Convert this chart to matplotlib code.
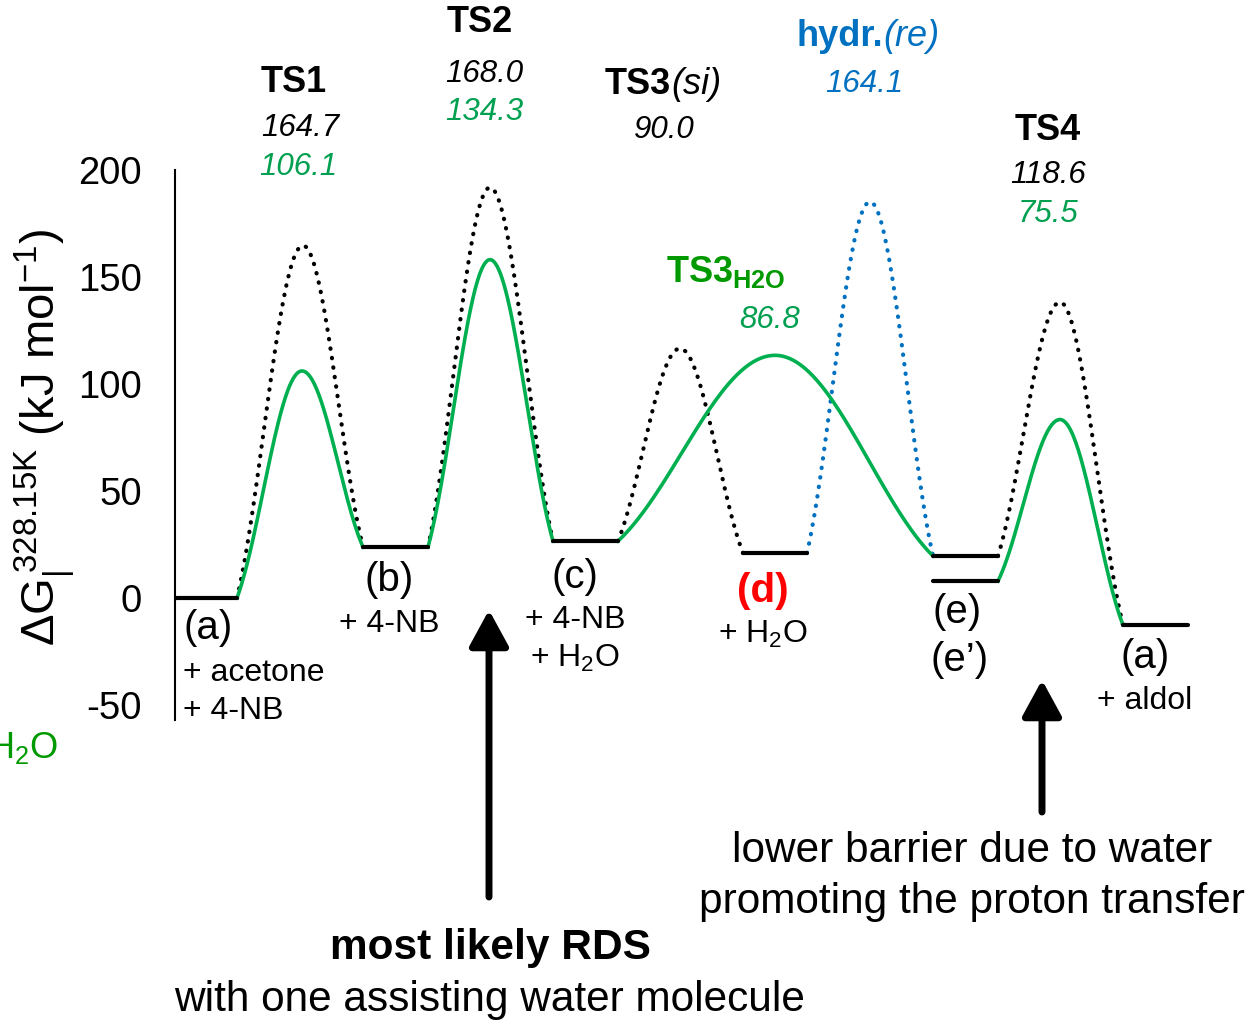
import numpy as np
import matplotlib
matplotlib.use("Agg")
import matplotlib.pyplot as plt

plt.rcParams['font.family'] = ['Liberation Sans', 'DejaVu Sans']
plt.rcParams['mathtext.fontset'] = 'custom'
plt.rcParams['mathtext.rm'] = 'Liberation Sans'
plt.rcParams['mathtext.it'] = 'Liberation Sans:italic'
plt.rcParams['mathtext.bf'] = 'Liberation Sans:bold'
plt.rcParams['axes.unicode_minus'] = False

# free energies of the intermediates (kJ/mol)
states = ['a', 'b', 'c', 'd', 'e', "e'", 'a2']
G_states = [0.0, 23.8, 26.6, 21.0, 19.6, 7.9, -12.6]

# barriers (kJ/mol)
ts_names = ['TS1', 'TS2', 'TS3(si)', 'TS4']
barrier_black = [164.7, 168.0, 90.0, 118.6]
barrier_green = [106.1, 134.3, None, 75.5]
barrier_ts3_h2o = 86.8
barrier_hydr = 164.1

W, H = 1254, 1023
GREEN = '#00B050'
GREEN_TXT = '#00A050'
DKGREEN = '#009900'
BLUE = '#0070C0'

# layout: x extents of each level (layout units)
level_x = {'a': (175, 237), 'b': (363, 428), 'c': (553, 618), 'd': (743, 807),
           'e': (933, 998), "e'": (933, 998), 'a2': (1123, 1188)}
G = dict(zip(states, G_states))

fig = plt.figure(figsize=(W / 100, H / 100), dpi=100)
ax = fig.add_axes([175 / W, 1 - 720 / H, (W - 175) / W, 550 / H])
ax.set_xlim(175, W)
ax.set_ylim(-57, 200)
for s in ['top', 'right', 'bottom']:
    ax.spines[s].set_visible(False)
ax.spines['left'].set_linewidth(1.5)
ax.set_xticks([])
ax.set_yticks([-50, 0, 50, 100, 150, 200])
ax.tick_params(axis='y', length=0, pad=24, labelsize=27.5)


def shape(t):
    return 0.5 * np.sin(np.pi / 2 * t) + 0.25 * (1 - np.cos(np.pi * t))


def hump(s0, s1, barrier, start=None, xp=None, **kw):
    x0 = level_x[s0][1]
    x1 = level_x[s1][0]
    y0 = G[s0]
    y1 = G[s1]
    yp = G[start or s0] + barrier
    if xp is None:
        xp = (x0 + x1) / 2
    t = np.linspace(0, 1, 80)
    xl = x0 + (xp - x0) * t
    yl = y0 + (yp - y0) * shape(t)
    xr = xp + (x1 - xp) * t
    yr = y1 + (yp - y1) * shape(1 - t)
    ax.plot(np.r_[xl, xr], np.r_[yl, yr], **kw)


dot = dict(color='black', lw=3, ls=(0, (0.1, 2.2)), dash_capstyle='round')
dotb = dict(dot, color=BLUE)
sol = dict(color=GREEN, lw=2.6)

# black dotted path
hump('a', 'b', barrier_black[0], xp=303, **dot)
hump('b', 'c', barrier_black[1], xp=490, **dot)
hump('c', 'd', barrier_black[2], xp=680, **dot)
hump('e', 'a2', barrier_black[3], xp=1060, **dot)
# blue hydration
hump('d', 'e', barrier_hydr, xp=870, **dotb)
# green water-assisted path
hump('a', 'b', barrier_green[0], xp=302, **sol)
hump('b', 'c', barrier_green[1], xp=490, **sol)
hump('c', 'e', barrier_ts3_h2o, xp=775, **sol)
hump("e'", 'a2', barrier_green[3], xp=1060, **sol)

for s in states:
    x0, x1 = level_x[s]
    ax.plot([x0, x1], [G[s], G[s]], color='black', lw=3, solid_capstyle='round')


def T(x, y, s, **kw):
    kw.setdefault('ha', 'center')
    kw.setdefault('va', 'center')
    fig.text(x / W, 1 - y / H, s, **kw)


# TS labels
T(294, 82, 'TS1', fontsize=26, fontweight='bold')
T(300, 128, '164.7', fontsize=22.5, style='italic')
T(298, 167, '106.1', fontsize=22.5, style='italic', color=GREEN_TXT)
T(480, 22, 'TS2', fontsize=26, fontweight='bold')
T(484, 74, '168.0', fontsize=22.5, style='italic')
T(484, 112, '134.3', fontsize=22.5, style='italic', color=GREEN_TXT)
T(671, 85, 'TS3', fontsize=26, fontweight='bold', ha='right')
T(671, 85, '(si)', fontsize=26, style='italic', ha='left')
T(664, 130, '90.0', fontsize=22.5, style='italic')
T(883, 36, 'hydr.', fontsize=26, fontweight='bold', ha='right', color=BLUE)
T(883, 36, '(re)', fontsize=26, style='italic', ha='left', color=BLUE)
T(864, 84, '164.1', fontsize=22.5, style='italic', color=BLUE)
T(1048, 130, 'TS4', fontsize=26, fontweight='bold')
T(1048, 175, '118.6', fontsize=22.5, style='italic')
T(1048, 214, '75.5', fontsize=22.5, style='italic', color=GREEN_TXT)
T(726, 272, r'$\mathbf{TS3}_{\mathbf{H2O}}$', fontsize=26, color=DKGREEN)
T(770, 320, '86.8', fontsize=22.5, style='italic', color=GREEN_TXT)

# state labels
T(208, 628, '(a)', fontsize=29)
T(183, 673, '+ acetone', fontsize=23, ha='left')
T(183, 711, '+ 4-NB', fontsize=23, ha='left')
T(389, 580, '(b)', fontsize=29)
T(389, 624, '+ 4-NB', fontsize=23)
T(575, 577, '(c)', fontsize=29)
T(575, 620, '+ 4-NB', fontsize=23)
T(575, 658, '+ H$_2$O', fontsize=23)
T(763, 591, '(d)', fontsize=29, fontweight='bold', color='red')
T(763, 634, '+ H$_2$O', fontsize=23)
T(957, 612, '(e)', fontsize=29)
T(960, 660, '(e\u2019)', fontsize=29)
T(1145, 657, '(a)', fontsize=29)
T(1145, 701, '+ aldol', fontsize=23)
T(58, 748, 'H$_2$O', fontsize=26, color=DKGREEN, ha='right')

# y label
T(45, 437, r'$\Delta\mathrm{G}_{|}^{\,328.15\mathrm{K}}$ (kJ mol$^{-1}$)',
  fontsize=34, rotation=90)

# arrows
for xa, ytip, ytail in [(489, 610, 897), (1042, 680, 812)]:
    ax.annotate('', xy=(xa, H - ytip), xytext=(xa, H - ytail),
                xycoords='figure pixels', textcoords='figure pixels',
                arrowprops=dict(arrowstyle='-|>,head_length=1.1,head_width=0.6',
                                lw=5, color='black', mutation_scale=20,
                                shrinkA=0, shrinkB=0))

T(490, 948, 'most likely RDS', fontsize=30.5, fontweight='bold')
T(490, 1000, 'with one assisting water molecule', fontsize=30.5)
T(972, 851, 'lower barrier due to water', fontsize=30.5)
T(972, 902, 'promoting the proton transfer', fontsize=30.5)

fig.savefig('out.png', dpi=100)
